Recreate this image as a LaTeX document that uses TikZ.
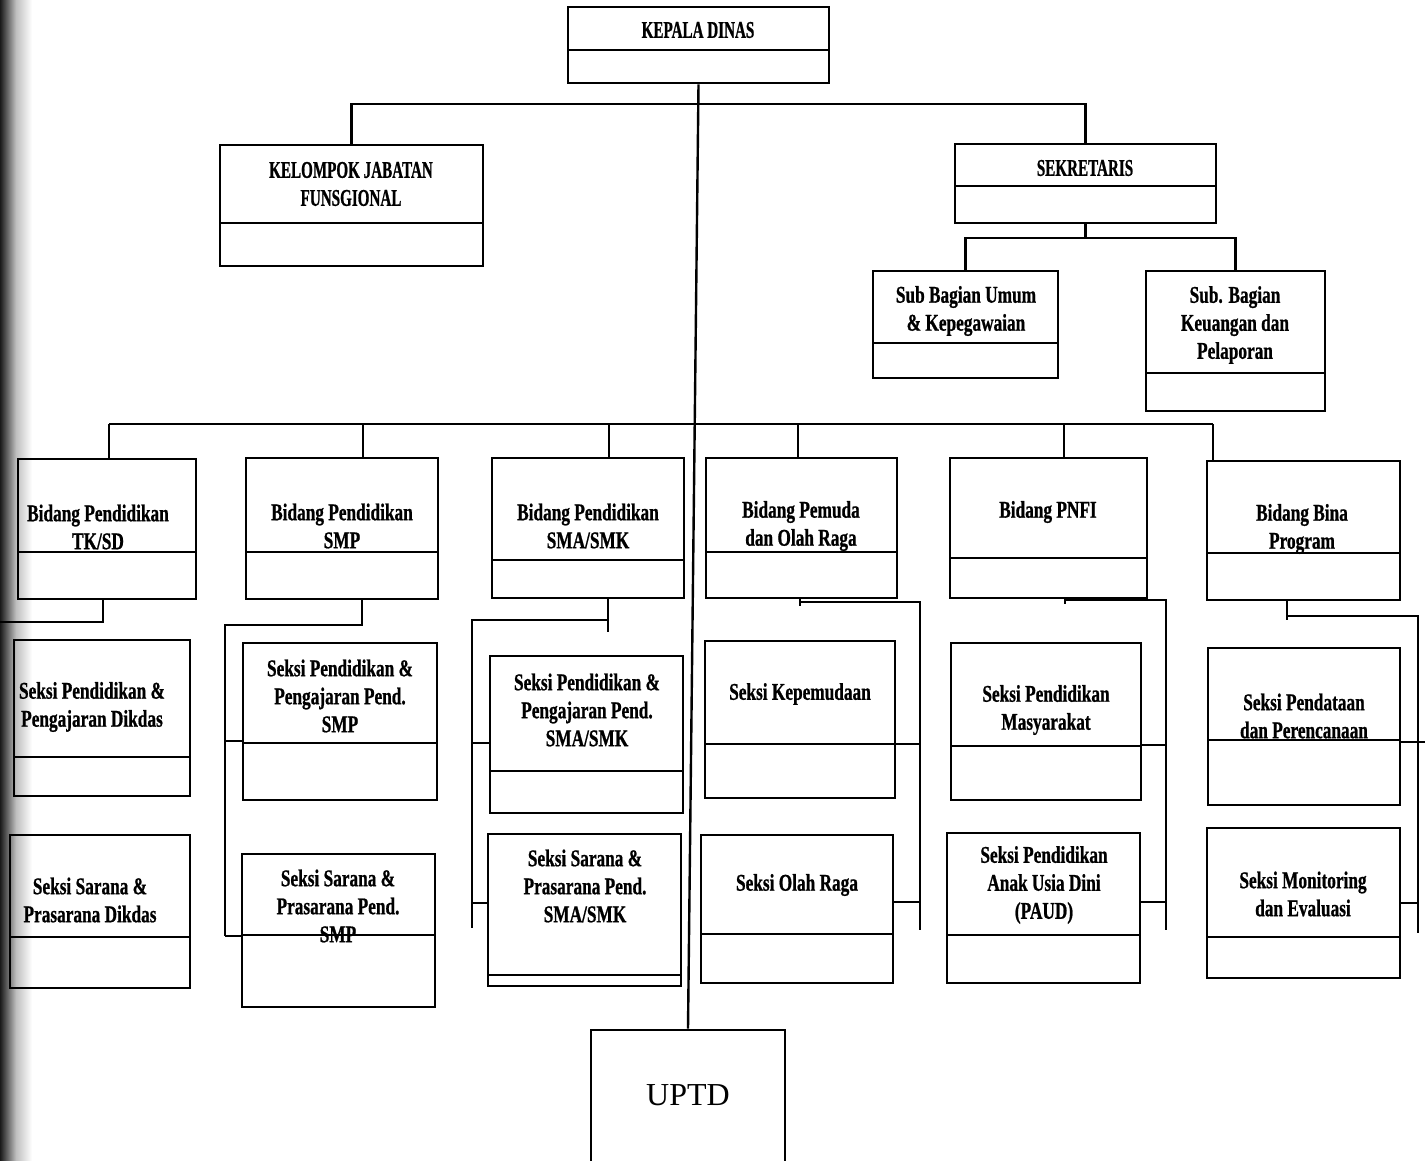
\documentclass[tikz,border=0pt]{standalone}
\usepackage{fontspec}
\setmainfont{Liberation Serif}
\newfontfamily\orgfont{Liberation Serif}[FakeStretch=0.72, FakeBold=0.8]
\newfontfamily\capfont{Liberation Serif}[FakeStretch=0.63, FakeBold=0.8]
\usetikzlibrary{fit}

% box with a divider line and a label in its upper part
% #1 name, #2 #3 top-left, #4 #5 bottom-right, #6 divider y, #7 #8 label centre, #9 label
\newcommand\orgbox[9]{%
  \coordinate (#1-nw) at (#2,#3);
  \coordinate (#1-se) at (#4,#5);
  \node[orgframe, fit=(#1-nw)(#1-se)] (#1) {};
  \draw[divider] (#2,#6) -- (#4,#6);
  \node[orgtext] (#1-t) at (#7,#8) {#9};
}

\begin{document}
\begin{tikzpicture}[x=0.5pt, y=-0.5pt,
  orgframe/.style={draw, line width=1.4pt, inner sep=0pt},
  divider/.style={line width=1.1pt},
  conn/.style={line width=1.2pt},
  orgtext/.style={align=center, inner sep=0pt,
    font=\orgfont\bfseries\fontsize{12}{14}\selectfont},
  plaintext/.style={inner sep=0pt, font=\fontsize{16}{19}\selectfont}]

\useasboundingbox (0,0) rectangle (1425,1161);
\fill[white] (0,0) rectangle (1425,1161);
% darkened left margin of the sheet
\shade[left color=black!90, right color=white, middle color=black!25] (0,0) rectangle (32,1161);

% top level
\orgbox{kd}{568}{7}{829}{83}{50}{698}{30}{\capfont\bfseries KEPALA DINAS}
\orgbox{kjf}{220}{145}{483}{266}{223}{351}{184}{\capfont\bfseries KELOMPOK JABATAN\\\capfont\bfseries FUNSGIONAL}
\orgbox{sek}{955}{144}{1216}{223}{186}{1085}{168}{\capfont\bfseries SEKRETARIS}
\orgbox{sub1}{873}{271}{1058}{378}{343}{966}{311}{Sub Bagian Umum\\\& Kepegawaian}
\orgbox{sub2}{1146}{271}{1325}{411}{373}{1235}{325}{Sub. Bagian\\Keuangan dan\\Pelaporan}

% bidang
\orgbox{b1}{18}{459}{196}{599}{552}{98}{527}{Bidang Pendidikan\\TK/SD}
\orgbox{b2}{246}{458}{438}{599}{552}{342}{526}{Bidang Pendidikan\\SMP}
\orgbox{b3}{492}{458}{684}{598}{560}{588}{526}{Bidang Pendidikan\\SMA/SMK}
\orgbox{b4}{706}{458}{897}{598}{552}{801}{526}{Bidang Pemuda\\dan Olah Raga}
\orgbox{b5}{950}{458}{1147}{598}{558}{1048}{512}{Bidang PNFI}
\orgbox{b6}{1207}{461}{1400}{600}{553}{1302}{529}{Bidang Bina\\Program}

% seksi
\orgbox{s11}{14}{640}{190}{796}{757}{92}{707}{Seksi Pendidikan \&\\Pengajaran Dikdas}
\orgbox{s12}{10}{835}{190}{988}{937}{90}{900}{Seksi Sarana \&\\Prasarana Dikdas}
\orgbox{s21}{243}{643}{437}{800}{743}{340}{696}{Seksi Pendidikan \&\\Pengajaran Pend.\\SMP}
\orgbox{s22}{242}{854}{435}{1007}{935}{338}{906}{Seksi Sarana \&\\Prasarana Pend.\\SMP}
\orgbox{s31}{490}{656}{683}{813}{771}{587}{710}{Seksi Pendidikan \&\\Pengajaran Pend.\\SMA/SMK}
\orgbox{s32}{488}{834}{681}{986}{975}{585}{886}{Seksi Sarana \&\\Prasarana Pend.\\SMA/SMK}
\orgbox{s41}{705}{641}{895}{798}{744}{800}{694}{Seksi Kepemudaan}
\orgbox{s42}{701}{835}{893}{983}{934}{797}{885}{Seksi Olah Raga}
\orgbox{s51}{951}{643}{1141}{800}{746}{1046}{710}{Seksi Pendidikan\\Masyarakat}
\orgbox{s52}{947}{833}{1140}{983}{935}{1044}{885}{Seksi Pendidikan\\Anak Usia Dini\\(PAUD)}
\orgbox{s61}{1208}{648}{1400}{805}{740}{1304}{716}{Seksi Pendataan\\dan Perencanaan}
\orgbox{s62}{1207}{828}{1400}{978}{937}{1303}{894}{Seksi Monitoring\\dan Evaluasi}

% UPTD, running off the bottom of the sheet
\coordinate (uptd-nw) at (591,1030);
\coordinate (uptd-se) at (785,1175);
\node[orgframe, fit=(uptd-nw)(uptd-se)] (uptd) {};
\node[plaintext] (uptd-t) at (688,1095) {UPTD};

% main spine and upper buses
\draw[conn] (kd.south) -- (uptd.north);
\coordinate (topbus) at (698,104);
\draw[conn] (kjf.north) |- (topbus) -| (sek.north);
\coordinate (sekbus) at (1090,238);
\draw[conn] (sek.south) -- (sek.south |- sekbus);
\draw[conn] (sub1.north) |- (sekbus) -| (sub2.north);

% bus to the bidang
\coordinate (d1) at (109,424);
\coordinate (d2) at (363,424);
\coordinate (d3) at (609,424);
\coordinate (d4) at (798,424);
\coordinate (d5) at (1064,424);
\coordinate (d6) at (1213,424);
\draw[conn] (d1) -- (d6);
\foreach \i/\b in {1/b1,2/b2,3/b3,4/b4,5/b5,6/b6}
  \draw[conn] (d\i) -- (d\i |- \b.north);

% TK/SD
\coordinate (k1a) at (103,622);
\coordinate (k1b) at (0,622);
\draw[conn] (b1.south -| k1a) -- (k1a) -- (k1b);

% SMP
\coordinate (k2a) at (362,625);
\coordinate (k2b) at (225,625);
\coordinate (k2c) at (225,936);
\coordinate (k2s1) at (225,741);
\draw[conn] (b2.south -| k2a) -- (k2a) -- (k2b) -- (k2c);
\draw[conn] (k2s1) -- (k2s1 -| s21.west);
\draw[conn] (k2c) -- (k2c -| s22.west);

% SMA/SMK
\coordinate (k3a) at (608,620);
\coordinate (k3e) at (608,632);
\coordinate (k3b) at (472,620);
\coordinate (k3c) at (472,928);
\coordinate (k3s1) at (472,743);
\coordinate (k3s2) at (472,903);
\draw[conn] (b3.south -| k3a) -- (k3e);
\draw[conn] (k3a) -- (k3b) -- (k3c);
\draw[conn] (k3s1) -- (k3s1 -| s31.west);
\draw[conn] (k3s2) -- (k3s2 -| s32.west);

% Pemuda dan Olah Raga
\coordinate (k4a) at (800,602);
\coordinate (k4e) at (800,606);
\coordinate (k4b) at (920,602);
\coordinate (k4c) at (920,930);
\coordinate (k4s1) at (920,744);
\coordinate (k4s2) at (920,902);
\draw[conn] (b4.south -| k4a) -- (k4e);
\draw[conn] (k4a) -- (k4b) -- (k4c);
\draw[conn] (k4s1) -- (k4s1 -| s41.east);
\draw[conn] (k4s2) -- (k4s2 -| s42.east);

% PNFI
\coordinate (k5a) at (1065,600);
\coordinate (k5e) at (1065,604);
\coordinate (k5b) at (1166,600);
\coordinate (k5c) at (1166,930);
\coordinate (k5s1) at (1166,745);
\coordinate (k5s2) at (1166,902);
\draw[conn] (b5.south -| k5a) -- (k5e);
\draw[conn] (k5a) -- (k5b) -- (k5c);
\draw[conn] (k5s1) -- (k5s1 -| s51.east);
\draw[conn] (k5s2) -- (k5s2 -| s52.east);

% Bina Program
\coordinate (k6a) at (1287,616);
\coordinate (k6e) at (1287,620);
\coordinate (k6b) at (1418,616);
\coordinate (k6c) at (1418,933);
\coordinate (k6s1) at (1425,742);
\coordinate (k6s2) at (1418,903);
\draw[conn] (b6.south -| k6a) -- (k6e);
\draw[conn] (k6a) -- (k6b) -- (k6c);
\draw[conn] (k6s1) -- (k6s1 -| s61.east);
\draw[conn] (k6s2) -- (k6s2 -| s62.east);

\end{tikzpicture}
\end{document}
